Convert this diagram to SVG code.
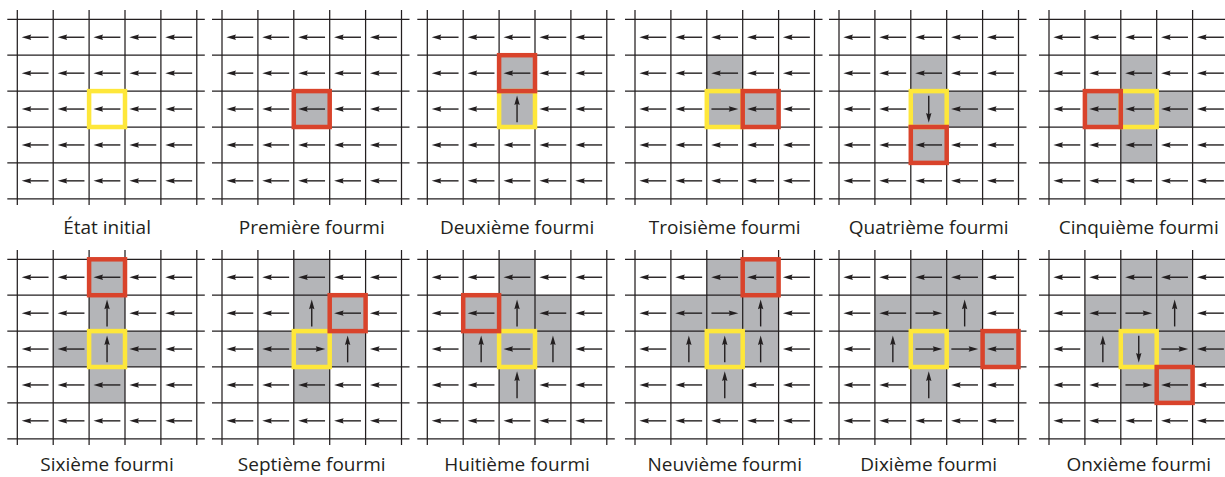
<svg xmlns="http://www.w3.org/2000/svg" xmlns:xlink="http://www.w3.org/1999/xlink" width="1225" height="477" viewBox="0 0 1225 477">
<style>
.ln{stroke:#231f20;stroke-width:1.25;fill:none}
.gy{fill:#b4b5b8}
.ye{fill:none;stroke:#fee73a;stroke-width:4.5}
.rd{fill:none;stroke:#d9432b;stroke-width:4.5}
.lb{font-family:"Open Sans",sans-serif;font-size:19px;fill:#231f20;text-anchor:middle}
</style>
<defs>
<g id="grid" class="ln"><path d="M-10 0H187.5M-10 35.9H187.5M-10 71.8H187.5M-10 107.7H187.5M-10 143.6H187.5M-10 179.5H187.5M0-9.3V185.7M35.9-9.3V185.7M71.8-9.3V185.7M107.7-9.3V185.7M143.6-9.3V185.7M179.5-9.3V185.7"/></g>
<g id="a"><path d="M-6 0H13.3" stroke="#231f20" stroke-width="1.4"/><path d="M-13.6 0L-4-2.7L-5.2 0L-4 2.7Z" fill="#231f20"/></g>
<g id="row"><use href="#a" x="17.95"/><use href="#a" x="53.85"/><use href="#a" x="89.75"/><use href="#a" x="125.65"/><use href="#a" x="161.55"/></g>
</defs>
<rect width="1225" height="477" fill="#fff"/>

<g id="p1" transform="translate(17.3,19.3)">
<use href="#row" y="17.95"/><use href="#row" y="53.85"/><use href="#row" y="89.75"/><use href="#row" y="125.65"/><use href="#row" y="161.55"/>
<use href="#grid"/>
<rect class="ye" x="71.8" y="71.8" width="35.9" height="35.9"/>
<text class="lb" x="89.75" y="215">État initial</text>
</g>

<g id="p2" transform="translate(222,19.3)">
<rect class="gy" x="71.8" y="71.8" width="35.9" height="35.9"/>
<use href="#row" y="17.95"/><use href="#row" y="53.85"/><use href="#row" y="89.75"/><use href="#row" y="125.65"/><use href="#row" y="161.55"/>
<use href="#grid"/>
<rect class="rd" x="71.8" y="71.8" width="35.9" height="35.9"/>
<text class="lb" x="89.75" y="215">Première fourmi</text>
</g>

<g id="p3" transform="translate(427.3,19.3)">
<rect class="gy" x="71.8" y="35.9" width="35.9" height="71.8"/>
<use href="#row" y="17.95"/><use href="#row" y="53.85"/>
<use href="#a" x="17.95" y="89.75"/><use href="#a" x="53.85" y="89.75"/><use href="#a" transform="translate(89.75,89.75) rotate(90)"/><use href="#a" x="125.65" y="89.75"/><use href="#a" x="161.55" y="89.75"/>
<use href="#row" y="125.65"/><use href="#row" y="161.55"/>
<use href="#grid"/>
<rect class="ye" x="71.8" y="71.8" width="35.9" height="35.9"/>
<rect class="rd" x="71.8" y="35.9" width="35.9" height="35.9"/>
<text class="lb" x="89.75" y="215">Deuxième fourmi</text>
</g>

<g id="p4" transform="translate(635,19.3)">
<rect class="gy" x="71.8" y="35.9" width="35.9" height="71.8"/>
<rect class="gy" x="107.7" y="71.8" width="35.9" height="35.9"/>
<use href="#row" y="17.95"/><use href="#row" y="53.85"/>
<use href="#a" x="17.95" y="89.75"/><use href="#a" x="53.85" y="89.75"/><use href="#a" transform="translate(89.75,89.75) rotate(180)"/><use href="#a" x="125.65" y="89.75"/><use href="#a" x="161.55" y="89.75"/>
<use href="#row" y="125.65"/><use href="#row" y="161.55"/>
<use href="#grid"/>
<rect class="ye" x="71.8" y="71.8" width="35.9" height="35.9"/>
<rect class="rd" x="107.7" y="71.8" width="35.9" height="35.9"/>
<text class="lb" x="89.75" y="215">Troisième fourmi</text>
</g>

<g id="p5" transform="translate(839,19.3)">
<rect class="gy" x="71.8" y="35.9" width="35.9" height="107.7"/>
<rect class="gy" x="107.7" y="71.8" width="35.9" height="35.9"/>
<use href="#row" y="17.95"/><use href="#row" y="53.85"/>
<use href="#a" x="17.95" y="89.75"/><use href="#a" x="53.85" y="89.75"/><use href="#a" transform="translate(89.75,89.75) rotate(-90)"/><use href="#a" x="125.65" y="89.75"/><use href="#a" x="161.55" y="89.75"/>
<use href="#row" y="125.65"/><use href="#row" y="161.55"/>
<use href="#grid"/>
<rect class="ye" x="71.8" y="71.8" width="35.9" height="35.9"/>
<rect class="rd" x="71.8" y="107.7" width="35.9" height="35.9"/>
<text class="lb" x="89.75" y="215">Quatrième fourmi</text>
</g>

<g id="p6" transform="translate(1049,19.3)">
<rect class="gy" x="71.8" y="35.9" width="35.9" height="107.7"/>
<rect class="gy" x="35.9" y="71.8" width="107.7" height="35.9"/>
<use href="#row" y="17.95"/><use href="#row" y="53.85"/><use href="#row" y="89.75"/><use href="#row" y="125.65"/><use href="#row" y="161.55"/>
<use href="#grid"/>
<rect class="ye" x="71.8" y="71.8" width="35.9" height="35.9"/>
<rect class="rd" x="35.9" y="71.8" width="35.9" height="35.9"/>
<text class="lb" x="89.75" y="215">Cinquième fourmi</text>
</g>

<g id="p7" transform="translate(17.3,259.3)">
<rect class="gy" x="71.8" y="0" width="35.9" height="143.6"/>
<rect class="gy" x="35.9" y="71.8" width="107.7" height="35.9"/>
<use href="#row" y="17.95"/>
<use href="#a" x="17.95" y="53.85"/><use href="#a" x="53.85" y="53.85"/><use href="#a" transform="translate(89.75,53.85) rotate(90)"/><use href="#a" x="125.65" y="53.85"/><use href="#a" x="161.55" y="53.85"/>
<use href="#a" x="17.95" y="89.75"/><use href="#a" x="53.85" y="89.75"/><use href="#a" transform="translate(89.75,89.75) rotate(90)"/><use href="#a" x="125.65" y="89.75"/><use href="#a" x="161.55" y="89.75"/>
<use href="#row" y="125.65"/><use href="#row" y="161.55"/>
<use href="#grid"/>
<rect class="ye" x="71.8" y="71.8" width="35.9" height="35.9"/>
<rect class="rd" x="71.8" y="0" width="35.9" height="35.9"/>
<text class="lb" x="89.75" y="212">Sixième fourmi</text>
</g>

<g id="p8" transform="translate(222,259.3)">
<rect class="gy" x="71.8" y="0" width="35.9" height="143.6"/>
<rect class="gy" x="35.9" y="71.8" width="107.7" height="35.9"/>
<rect class="gy" x="107.7" y="35.9" width="35.9" height="35.9"/>
<use href="#row" y="17.95"/>
<use href="#a" x="17.95" y="53.85"/><use href="#a" x="53.85" y="53.85"/><use href="#a" transform="translate(89.75,53.85) rotate(90)"/><use href="#a" x="125.65" y="53.85"/><use href="#a" x="161.55" y="53.85"/>
<use href="#a" x="17.95" y="89.75"/><use href="#a" x="53.85" y="89.75"/><use href="#a" transform="translate(89.75,89.75) rotate(180)"/><use href="#a" transform="translate(125.65,89.75) rotate(90)"/><use href="#a" x="161.55" y="89.75"/>
<use href="#row" y="125.65"/><use href="#row" y="161.55"/>
<use href="#grid"/>
<rect class="ye" x="71.8" y="71.8" width="35.9" height="35.9"/>
<rect class="rd" x="107.7" y="35.9" width="35.9" height="35.9"/>
<text class="lb" x="89.75" y="212">Septième fourmi</text>
</g>

<g id="p9" transform="translate(427.3,259.3)">
<rect class="gy" x="71.8" y="0" width="35.9" height="143.6"/>
<rect class="gy" x="35.9" y="35.9" width="107.7" height="71.8"/>
<use href="#row" y="17.95"/>
<use href="#a" x="17.95" y="53.85"/><use href="#a" x="53.85" y="53.85"/><use href="#a" transform="translate(89.75,53.85) rotate(90)"/><use href="#a" x="125.65" y="53.85"/><use href="#a" x="161.55" y="53.85"/>
<use href="#a" x="17.95" y="89.75"/><use href="#a" transform="translate(53.85,89.75) rotate(90)"/><use href="#a" x="89.75" y="89.75"/><use href="#a" transform="translate(125.65,89.75) rotate(90)"/><use href="#a" x="161.55" y="89.75"/>
<use href="#a" x="17.95" y="125.65"/><use href="#a" x="53.85" y="125.65"/><use href="#a" transform="translate(89.75,125.65) rotate(90)"/><use href="#a" x="125.65" y="125.65"/><use href="#a" x="161.55" y="125.65"/>
<use href="#row" y="161.55"/>
<use href="#grid"/>
<rect class="ye" x="71.8" y="71.8" width="35.9" height="35.9"/>
<rect class="rd" x="35.9" y="35.9" width="35.9" height="35.9"/>
<text class="lb" x="89.75" y="212">Huitième fourmi</text>
</g>

<g id="p10" transform="translate(635,259.3)">
<rect class="gy" x="71.8" y="0" width="71.8" height="35.9"/>
<rect class="gy" x="35.9" y="35.9" width="107.7" height="71.8"/>
<rect class="gy" x="71.8" y="107.7" width="35.9" height="35.9"/>
<use href="#row" y="17.95"/>
<use href="#a" x="17.95" y="53.85"/><use href="#a" x="53.85" y="53.85"/><use href="#a" transform="translate(89.75,53.85) rotate(180)"/><use href="#a" transform="translate(125.65,53.85) rotate(90)"/><use href="#a" x="161.55" y="53.85"/>
<use href="#a" x="17.95" y="89.75"/><use href="#a" transform="translate(53.85,89.75) rotate(90)"/><use href="#a" transform="translate(89.75,89.75) rotate(90)"/><use href="#a" transform="translate(125.65,89.75) rotate(90)"/><use href="#a" x="161.55" y="89.75"/>
<use href="#a" x="17.95" y="125.65"/><use href="#a" x="53.85" y="125.65"/><use href="#a" transform="translate(89.75,125.65) rotate(90)"/><use href="#a" x="125.65" y="125.65"/><use href="#a" x="161.55" y="125.65"/>
<use href="#row" y="161.55"/>
<use href="#grid"/>
<rect class="ye" x="71.8" y="71.8" width="35.9" height="35.9"/>
<rect class="rd" x="107.7" y="0" width="35.9" height="35.9"/>
<text class="lb" x="89.75" y="212">Neuvième fourmi</text>
</g>

<g id="p11" transform="translate(839,259.3)">
<rect class="gy" x="71.8" y="0" width="71.8" height="35.9"/>
<rect class="gy" x="35.9" y="35.9" width="107.7" height="71.8"/>
<rect class="gy" x="143.6" y="71.8" width="35.9" height="35.9"/>
<rect class="gy" x="71.8" y="107.7" width="35.9" height="35.9"/>
<use href="#row" y="17.95"/>
<use href="#a" x="17.95" y="53.85"/><use href="#a" x="53.85" y="53.85"/><use href="#a" transform="translate(89.75,53.85) rotate(180)"/><use href="#a" transform="translate(125.65,53.85) rotate(90)"/><use href="#a" x="161.55" y="53.85"/>
<use href="#a" x="17.95" y="89.75"/><use href="#a" transform="translate(53.85,89.75) rotate(90)"/><use href="#a" transform="translate(89.75,89.75) rotate(180)"/><use href="#a" transform="translate(125.65,89.75) rotate(180)"/><use href="#a" x="161.55" y="89.75"/>
<use href="#a" x="17.95" y="125.65"/><use href="#a" x="53.85" y="125.65"/><use href="#a" transform="translate(89.75,125.65) rotate(90)"/><use href="#a" x="125.65" y="125.65"/><use href="#a" x="161.55" y="125.65"/>
<use href="#row" y="161.55"/>
<use href="#grid"/>
<rect class="ye" x="71.8" y="71.8" width="35.9" height="35.9"/>
<rect class="rd" x="143.6" y="71.8" width="35.9" height="35.9"/>
<text class="lb" x="89.75" y="212">Dixième fourmi</text>
</g>

<g id="p12" transform="translate(1049,259.3)">
<rect class="gy" x="71.8" y="0" width="71.8" height="35.9"/>
<rect class="gy" x="35.9" y="35.9" width="107.7" height="71.8"/>
<rect class="gy" x="143.6" y="71.8" width="35.9" height="35.9"/>
<rect class="gy" x="71.8" y="107.7" width="71.8" height="35.9"/>
<use href="#row" y="17.95"/>
<use href="#a" x="17.95" y="53.85"/><use href="#a" x="53.85" y="53.85"/><use href="#a" transform="translate(89.75,53.85) rotate(180)"/><use href="#a" transform="translate(125.65,53.85) rotate(90)"/><use href="#a" x="161.55" y="53.85"/>
<use href="#a" x="17.95" y="89.75"/><use href="#a" transform="translate(53.85,89.75) rotate(90)"/><use href="#a" transform="translate(89.75,89.75) rotate(-90)"/><use href="#a" transform="translate(125.65,89.75) rotate(180)"/><use href="#a" x="161.55" y="89.75"/>
<use href="#a" x="17.95" y="125.65"/><use href="#a" x="53.85" y="125.65"/><use href="#a" transform="translate(89.75,125.65) rotate(180)"/><use href="#a" x="125.65" y="125.65"/><use href="#a" x="161.55" y="125.65"/>
<use href="#row" y="161.55"/>
<use href="#grid"/>
<rect class="ye" x="71.8" y="71.8" width="35.9" height="35.9"/>
<rect class="rd" x="107.7" y="107.7" width="35.9" height="35.9"/>
<text class="lb" x="89.75" y="212">Onxième fourmi</text>
</g>

<g id="connectors"/>
</svg>
